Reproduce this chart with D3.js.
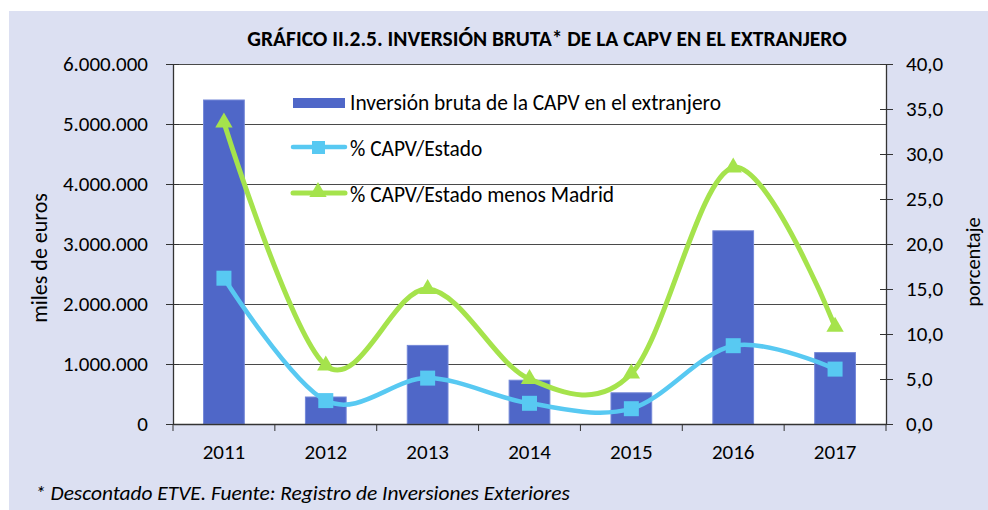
<!DOCTYPE html>
<html>
<head>
<meta charset="utf-8">
<script src="https://cdn.jsdelivr.net/npm/d3@7"></script>
<style>
  body { margin: 0; background: #fff; }
  svg text { font-family: Carlito, Calibri, Lato, sans-serif; fill: #000; }
</style>
</head>
<body>
<div id="chart"></div>
<script>
// data
var years = ["2011", "2012", "2013", "2014", "2015", "2016", "2017"];
var inversion = [5400000, 450000, 1310000, 730000, 520000, 3220000, 1190000];
var pctEstado = [16.2, 2.6, 5.1, 2.3, 1.7, 8.7, 6.1];
var pctSinMadrid = [33.5, 6.5, 15.0, 5.0, 5.6, 28.5, 10.8];
var leftTicks = [0, 1000000, 2000000, 3000000, 4000000, 5000000, 6000000];
var rightTicks = [0, 5, 10, 15, 20, 25, 30, 35, 40];

(function() {
  var W = 988, H = 510;
  var pLeft = 173, pRight = 886, pTop = 64, pBottom = 424;
  var fs = 21;

  var svg = d3.select("#chart").append("svg")
    .attr("width", W)
    .attr("height", H);

  // lavender frame
  svg.append("rect")
    .attr("x", 9).attr("y", 11)
    .attr("width", W - 9).attr("height", H - 11)
    .attr("fill", "#dce0f2");

  svg.append("rect")
    .attr("x", pLeft).attr("y", pTop)
    .attr("width", pRight - pLeft).attr("height", pBottom - pTop)
    .attr("fill", "#fff");

  var x = d3.scaleBand().domain(years).range([pLeft, pRight]).paddingInner(0.6).paddingOuter(0.3);
  var band = d3.scaleBand().domain(years).range([pLeft, pRight]);
  var yL = d3.scaleLinear().domain([0, 6000000]).range([pBottom, pTop]);
  var yR = d3.scaleLinear().domain([0, 40]).range([pBottom, pTop]);

  var fmtMiles = function(d) {
    return d === 0 ? "0" : d3.format(",")(d).replace(/,/g, ".");
  };
  var fmtPct = function(d) { return d3.format(".1f")(d).replace(".", ","); };

  // gridlines
  svg.append("g")
    .selectAll("line")
    .data(leftTicks.slice(1))
    .enter()
    .append("line")
    .attr("x1", pLeft).attr("x2", pRight)
    .attr("y1", d => Math.round(yL(d)) + 0.5)
    .attr("y2", d => Math.round(yL(d)) + 0.5)
    .attr("stroke", "#4a4a4a")
    .attr("stroke-width", 1);

  // bars
  svg.append("g")
    .selectAll("rect")
    .data(inversion)
    .enter()
    .append("rect")
    .attr("x", (d, i) => x(years[i]))
    .attr("y", d => yL(d))
    .attr("width", x.bandwidth())
    .attr("height", d => pBottom - yL(d))
    .attr("fill", "#4f67c8")
    .attr("stroke", "#7488d8")
    .attr("stroke-width", 1);

  // axes
  var axisL = svg.append("g")
    .attr("transform", "translate(" + pLeft + ",0)")
    .call(d3.axisLeft(yL).tickValues(leftTicks).tickFormat(fmtMiles).tickSizeInner(7).tickSizeOuter(0).tickPadding(18));
  axisL.selectAll(".tick line").attr("x2", 6).attr("x1", -7);

  var axisR = svg.append("g")
    .attr("transform", "translate(" + pRight + ",0)")
    .call(d3.axisRight(yR).tickValues(rightTicks).tickFormat(fmtPct).tickSizeInner(7).tickSizeOuter(0).tickPadding(13));
  axisR.selectAll(".tick line").attr("x1", -6).attr("x2", 7);

  var axisB = svg.append("g")
    .attr("transform", "translate(0," + pBottom + ")")
    .call(d3.axisBottom(band).tickSize(0).tickPadding(20));
  axisB.selectAll(".tick line").remove();

  svg.append("g")
    .selectAll("line")
    .data(years.concat(["end"]))
    .enter()
    .append("line")
    .attr("x1", (d, i) => pLeft + i * band.step())
    .attr("x2", (d, i) => pLeft + i * band.step())
    .attr("y1", pBottom)
    .attr("y2", pBottom + 7)
    .attr("stroke", "#333");

  [axisL, axisR, axisB].forEach(function(a) {
    a.selectAll(".domain").attr("stroke", "#333").attr("stroke-width", 1.3);
    a.selectAll(".tick line").attr("stroke", "#333");
    a.selectAll("text").attr("font-size", fs).attr("fill", "#000")
      .style("font-family", "Carlito, Calibri, Lato, sans-serif");
  });

  // lines
  var curve = d3.line()
    .x((d, i) => band(years[i]) + band.bandwidth() / 2)
    .y(d => yR(d))
    .curve(d3.curveCardinal.tension(0));

  svg.append("path")
    .datum(pctSinMadrid)
    .attr("d", curve)
    .attr("fill", "none")
    .attr("stroke", "#a5e34c")
    .attr("stroke-width", 5);

  svg.append("path")
    .datum(pctEstado)
    .attr("d", curve)
    .attr("fill", "none")
    .attr("stroke", "#58c9f2")
    .attr("stroke-width", 4.5);

  var tri = d3.symbol().type(d3.symbolTriangle).size(130);
  svg.append("g")
    .selectAll("path")
    .data(pctSinMadrid)
    .enter()
    .append("path")
    .attr("d", tri)
    .attr("transform", (d, i) => "translate(" + (band(years[i]) + band.bandwidth() / 2) + "," + yR(d) + ")")
    .attr("fill", "#a5e34c");

  svg.append("g")
    .selectAll("rect")
    .data(pctEstado)
    .enter()
    .append("rect")
    .attr("x", (d, i) => band(years[i]) + band.bandwidth() / 2 - 7.5)
    .attr("y", d => yR(d) - 7.5)
    .attr("width", 15)
    .attr("height", 15)
    .attr("fill", "#58c9f2");

  // legend
  var lg = svg.append("g");
  lg.append("rect")
    .attr("x", 293).attr("y", 98).attr("width", 52).attr("height", 10)
    .attr("fill", "#4f67c8");
  lg.append("line")
    .attr("x1", 293).attr("x2", 345).attr("y1", 147).attr("y2", 147)
    .attr("stroke", "#58c9f2").attr("stroke-width", 4.5).attr("stroke-linecap", "round");
  lg.append("rect")
    .attr("x", 312).attr("y", 141).attr("width", 13).attr("height", 13)
    .attr("fill", "#58c9f2");
  lg.append("line")
    .attr("x1", 293).attr("x2", 345).attr("y1", 193).attr("y2", 193)
    .attr("stroke", "#a5e34c").attr("stroke-width", 5).attr("stroke-linecap", "round");
  lg.append("path")
    .attr("d", tri)
    .attr("transform", "translate(318,192)")
    .attr("fill", "#a5e34c");

  var legendLabels = ["Inversión bruta de la CAPV en el extranjero", "% CAPV/Estado", "% CAPV/Estado menos Madrid"];
  lg.selectAll("text")
    .data(legendLabels)
    .enter()
    .append("text")
    .attr("x", 350)
    .attr("y", (d, i) => 110 + i * 46)
    .attr("font-size", 21.4)
    .text(d => d);

  // titles
  svg.append("text")
    .attr("x", 547).attr("y", 46)
    .attr("text-anchor", "middle")
    .attr("font-size", 21.5)
    .attr("font-weight", "bold")
    .text("GRÁFICO II.2.5. INVERSIÓN BRUTA* DE LA CAPV EN EL EXTRANJERO");

  svg.append("text")
    .attr("transform", "translate(47,258) rotate(-90)")
    .attr("text-anchor", "middle")
    .attr("font-size", 22)
    .text("miles de euros");

  svg.append("text")
    .attr("transform", "translate(980,262) rotate(-90)")
    .attr("text-anchor", "middle")
    .attr("font-size", 20.5)
    .text("porcentaje");

  svg.append("text")
    .attr("x", 35).attr("y", 500)
    .attr("font-size", 21.4)
    .attr("font-style", "italic")
    .text("* Descontado ETVE. Fuente: Registro de Inversiones Exteriores");
})();
</script>
</body>
</html>
